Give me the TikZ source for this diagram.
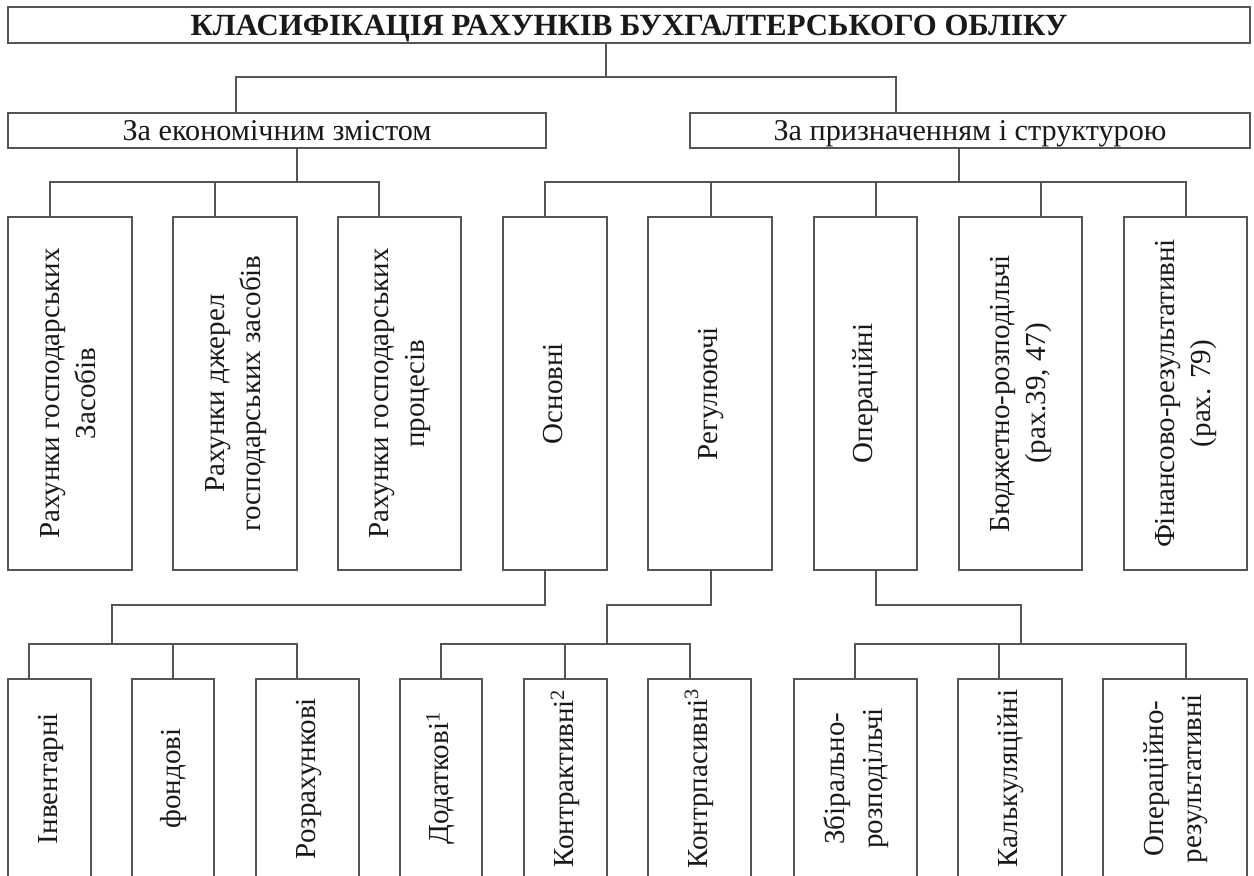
\documentclass[tikz,border=0pt]{standalone}
\usepackage{fontspec}
\setmainfont{Liberation Serif}
\usepackage{graphicx}
\definecolor{linecol}{RGB}{85,85,85}
\definecolor{txtcol}{RGB}{25,25,25}
\newcommand\vlab[1]{\rotatebox{90}{\begin{tabular}{@{}c@{}}#1\end{tabular}}}
\tikzset{
  boxbase/.style={draw=linecol, line width=1.8pt, inner sep=0pt, text=txtcol, anchor=center, fill=white},
  hbox/.style={boxbase, minimum height=35pt, minimum width=#1, text height=21pt, text depth=2pt},
  vbox/.style={boxbase, minimum height=353pt, minimum width=#1, font=\fontsize{29}{36}\selectfont},
  lbox/.style={boxbase, minimum height=199pt, minimum width=#1, font=\fontsize{29}{38}\selectfont},
  conn/.style={draw=linecol, line width=1.8pt},
}
\begin{document}
\begin{tikzpicture}[x=1pt, y=-1pt]
\useasboundingbox (0,0) rectangle (1254,876);
\clip (0,0) rectangle (1254,876);
% level 0
\node[hbox=1242pt, minimum height=36pt, text height=22pt, font=\bfseries\fontsize{30.8}{34}\selectfont] (title) at (629,25) {КЛАСИФІКАЦІЯ РАХУНКІВ БУХГАЛТЕРСЬКОГО ОБЛІКУ};
% level 1
\node[hbox=538pt, font=\fontsize{30.2}{34}\selectfont] (econ) at (277,130.5) {За економічним змістом};
\node[hbox=560pt, font=\fontsize{30.2}{34}\selectfont] (purp) at (970,130.5) {За призначенням і структурою};
% level 2
\node[vbox=124pt] (a1) at (70,393.5) {\vlab{Рахунки господарських\\Засобів}};
\node[vbox=124pt] (a2) at (235,393.5) {\vlab{Рахунки джерел\\господарських засобів}};
\node[vbox=123pt] (a3) at (399.5,393.5) {\vlab{Рахунки господарських\\процесів}};
\node[vbox=104pt] (p1) at (555,393.5) {\vlab{Основні}};
\node[vbox=124pt] (p2) at (710,393.5) {\vlab{Регулюючі}};
\node[vbox=103pt] (p3) at (865.5,393.5) {\vlab{Операційні}};
\node[vbox=123pt] (p4) at (1020.5,393.5) {\vlab{Бюджетно-розподільчі\\(рах.39, 47)}};
\node[vbox=123pt] (p5) at (1185.5,393.5) {\vlab{Фінансово-результативні\\(рах. 79)}};
% level 3
\node[lbox=83pt] (q1) at (49.5,778.5) {\vlab{Інвентарні}};
\node[lbox=82pt] (q2) at (173,778.5) {\vlab{фондові}};
\node[lbox=103pt] (q3) at (307.5,778.5) {\vlab{Розрахункові}};
\node[lbox=82pt] (q4) at (441,778.5) {\vlab{Додаткові\textsuperscript{1}}};
\node[lbox=83pt] (q5) at (565.5,778.5) {\vlab{Контрактивні\textsuperscript{2}}};
\node[lbox=103pt] (q6) at (699.5,778.5) {\vlab{Контрпасивні\textsuperscript{3}}};
\node[lbox=123pt] (q7) at (855.5,778.5) {\vlab{Збірально-\\розподільчі}};
\node[lbox=104pt] (q8) at (1010,778.5) {\vlab{Калькуляційні}};
\node[lbox=144pt] (q9) at (1175,778.5) {\vlab{Операційно-\\результативні}};
% connectors: title -> level 1
\coordinate (b0) at (606,77);
\coordinate (d-econ) at ([xshift=-41pt]econ.north);
\coordinate (d-purp) at ([xshift=-74pt]purp.north);
\draw[conn] (title.south -| b0) -- (b0);
\draw[conn] (d-econ) |- (b0) -| (d-purp);
% econ -> a1..a3
\coordinate (b1) at (297,182);
\coordinate (d-a1) at ([xshift=-20pt]a1.north);
\coordinate (d-a2) at ([xshift=-20pt]a2.north);
\coordinate (d-a3) at ([xshift=-20.5pt]a3.north);
\draw[conn] (econ.south -| b1) -- (b1);
\draw[conn] (d-a1) |- (b1) -| (d-a3);
\draw[conn] (d-a2) -- (d-a2 |- b1);
% purp -> p1..p5
\coordinate (b2) at (959,182);
\coordinate (d-p1) at ([xshift=-10pt]p1.north);
\coordinate (d-p2) at ([xshift=1pt]p2.north);
\coordinate (d-p3) at ([xshift=10.5pt]p3.north);
\coordinate (d-p4) at ([xshift=20.5pt]p4.north);
\coordinate (d-p5) at ([xshift=0.5pt]p5.north);
\draw[conn] (purp.south -| b2) -- (b2);
\draw[conn] (d-p1) |- (b2) -| (d-p5);
\draw[conn] (d-p2) -- (d-p2 |- b2);
\draw[conn] (d-p3) -- (d-p3 |- b2);
\draw[conn] (d-p4) -- (d-p4 |- b2);
% p1 -> q1..q3
\coordinate (s-p1) at ([xshift=-10pt]p1.south);
\coordinate (k1) at (112,605);
\coordinate (b3) at (112,644);
\coordinate (d-q1) at ([xshift=-20.5pt]q1.north);
\coordinate (d-q2) at (q2.north);
\coordinate (d-q3) at ([xshift=-10.5pt]q3.north);
\draw[conn] (s-p1) |- (k1) -- (b3);
\draw[conn] (d-q1) |- (b3) -| (d-q3);
\draw[conn] (d-q2) -- (d-q2 |- b3);
% p2 -> q4..q6
\coordinate (s-p2) at ([xshift=1pt]p2.south);
\coordinate (k2) at (607,605);
\coordinate (b4) at (607,644);
\coordinate (d-q4) at (q4.north);
\coordinate (d-q5) at ([xshift=-0.5pt]q5.north);
\coordinate (d-q6) at ([xshift=-9.5pt]q6.north);
\draw[conn] (s-p2) |- (k2) -- (b4);
\draw[conn] (d-q4) |- (b4) -| (d-q6);
\draw[conn] (d-q5) -- (d-q5 |- b4);
% p3 -> q7..q9
\coordinate (s-p3) at ([xshift=10.5pt]p3.south);
\coordinate (k3) at (1021,605);
\coordinate (b5) at (1021,644);
\coordinate (d-q7) at ([xshift=-0.5pt]q7.north);
\coordinate (d-q8) at ([xshift=-11pt]q8.north);
\coordinate (d-q9) at ([xshift=11pt]q9.north);
\draw[conn] (s-p3) |- (k3) -- (b5);
\draw[conn] (d-q7) |- (b5) -| (d-q9);
\draw[conn] (d-q8) -- (d-q8 |- b5);
\end{tikzpicture}
\end{document}
